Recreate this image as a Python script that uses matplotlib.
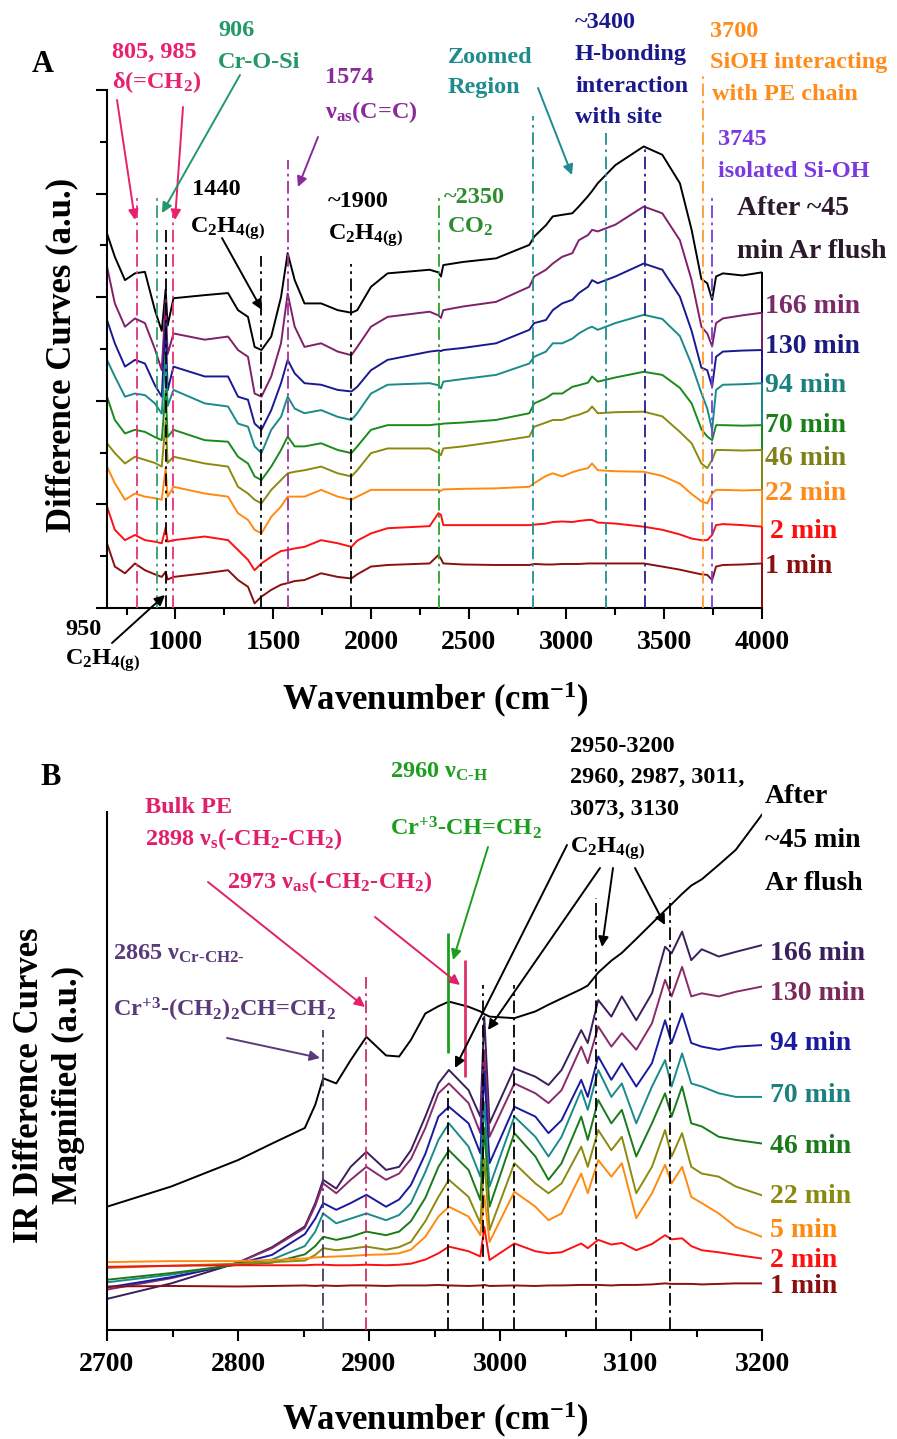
import matplotlib
matplotlib.use('Agg')
import matplotlib.pyplot as plt
from matplotlib.ticker import MultipleLocator
from matplotlib.patches import FancyArrowPatch

plt.rcParams['font.family'] = ['Liberation Serif', 'DejaVu Serif']
plt.rcParams['font.weight'] = 'bold'
plt.rcParams['mathtext.default'] = 'regular'
plt.rcParams['axes.linewidth'] = 1.5

W, H = 897, 1439

# ---------------- panel A data (offset difference spectra, a.u.)
wnA = [650, 690, 742, 793, 844, 895, 930, 950, 960, 990,
       1150, 1269, 1320, 1371, 1405, 1440, 1490, 1540, 1574, 1610,
       1660, 1745, 1830, 1900, 1930, 2000, 2085, 2300, 2345, 2358,
       2370, 2470, 2640, 2810, 2835, 2895, 2930, 2978, 3030, 3063,
       3110, 3131, 3160, 3250, 3395, 3490, 3580, 3640, 3690, 3720,
       3745, 3765, 3800, 3900, 4000]
a_after = [7.23, 6.78, 6.33, 6.46, 6.49, 5.75, 5.35, 6.15, 5.45, 5.98,
           6.04, 6.08, 5.75, 5.62, 5.04, 4.98, 5.24, 6.00, 6.85, 6.33,
           5.88, 5.88, 5.75, 5.70, 5.75, 6.20, 6.46, 6.53, 6.48, 6.40,
           6.62, 6.68, 6.75, 7.01, 7.17, 7.39, 7.56, 7.59, 7.62, 7.75,
           7.95, 8.05, 8.20, 8.55, 8.91, 8.75, 8.20, 7.30, 6.35, 6.27,
           5.95, 6.40, 6.46, 6.42, 6.48]
a_166 = [6.59, 5.88, 5.43, 5.59, 5.50, 5.00, 4.59, 5.95, 4.90, 5.30,
         5.18, 5.24, 4.98, 4.85, 4.14, 4.08, 4.47, 5.11, 6.07, 5.43,
         5.04, 5.11, 4.95, 4.88, 5.04, 5.43, 5.62, 5.72, 5.65, 5.60,
         5.75, 5.82, 5.91, 6.20, 6.40, 6.53, 6.65, 6.78, 6.85, 7.10,
         7.20, 7.30, 7.27, 7.40, 7.75, 7.62, 7.10, 6.33, 5.43, 5.30,
         5.05, 5.50, 5.59, 5.65, 5.70]
a_130 = [5.56, 5.11, 4.66, 4.79, 4.72, 4.30, 4.08, 5.50, 4.20, 4.66,
         4.47, 4.47, 4.08, 4.02, 3.56, 3.44, 3.82, 4.34, 4.79, 4.53,
         4.34, 4.31, 4.21, 4.18, 4.27, 4.59, 4.79, 4.95, 4.97, 4.96,
         4.98, 5.02, 5.11, 5.37, 5.50, 5.56, 5.75, 5.88, 5.95, 6.08,
         6.20, 6.33, 6.27, 6.40, 6.65, 6.53, 6.01, 5.35, 4.64, 4.59,
         4.27, 4.85, 4.95, 4.97, 4.98]
a_94 = [4.79, 4.47, 4.08, 4.14, 4.11, 3.95, 3.75, 4.90, 3.90, 4.21,
        3.95, 3.89, 3.56, 3.50, 3.12, 2.99, 3.44, 3.69, 4.08, 3.85,
        3.76, 3.82, 3.69, 3.63, 3.76, 4.14, 4.31, 4.34, 4.30, 4.24,
        4.37, 4.42, 4.50, 4.72, 4.85, 4.95, 5.11, 5.11, 5.20, 5.30,
        5.40, 5.43, 5.37, 5.50, 5.66, 5.58, 5.25, 4.70, 4.15, 3.85,
        3.44, 4.21, 4.31, 4.32, 4.34]
a_70 = [4.08, 3.63, 3.37, 3.44, 3.40, 3.30, 3.24, 4.20, 3.30, 3.44,
        3.24, 3.21, 2.92, 2.79, 2.54, 2.47, 2.73, 3.05, 3.31, 3.12,
        3.12, 3.18, 3.05, 2.99, 3.12, 3.44, 3.53, 3.53, 3.55, 3.55,
        3.56, 3.58, 3.63, 3.76, 3.95, 4.05, 4.14, 4.14, 4.27, 4.30,
        4.35, 4.47, 4.37, 4.45, 4.56, 4.50, 4.25, 3.95, 3.45, 3.31,
        3.24, 3.53, 3.53, 3.52, 3.53]
a_46 = [3.18, 2.99, 2.79, 2.92, 2.86, 2.80, 2.73, 3.60, 2.80, 2.92,
        2.79, 2.73, 2.34, 2.21, 2.09, 2.02, 2.28, 2.47, 2.60, 2.63,
        2.66, 2.73, 2.60, 2.54, 2.66, 2.99, 3.08, 3.08, 3.00, 2.95,
        3.08, 3.12, 3.21, 3.31, 3.50, 3.58, 3.63, 3.63, 3.70, 3.73,
        3.80, 3.89, 3.76, 3.78, 3.79, 3.70, 3.40, 3.18, 2.79, 2.70,
        2.86, 3.05, 3.05, 3.04, 3.05]
a_22 = [2.73, 2.41, 2.09, 2.21, 2.15, 2.12, 2.09, 2.70, 2.15, 2.34,
        2.21, 2.15, 1.83, 1.70, 1.51, 1.44, 1.76, 1.96, 2.15, 2.15,
        2.15, 2.28, 2.15, 2.09, 2.15, 2.28, 2.28, 2.28, 2.28, 2.26,
        2.29, 2.30, 2.31, 2.34, 2.41, 2.55, 2.60, 2.54, 2.62, 2.66,
        2.70, 2.79, 2.66, 2.64, 2.63, 2.55, 2.40, 2.20, 2.06, 2.02,
        2.21, 2.28, 2.28, 2.27, 2.28]
a_2 = [1.96, 1.51, 1.31, 1.41, 1.31, 1.28, 1.25, 1.55, 1.28, 1.31,
       1.38, 1.31, 1.12, 0.93, 0.73, 0.86, 0.99, 1.10, 1.12, 1.15,
       1.18, 1.31, 1.25, 1.18, 1.30, 1.44, 1.54, 1.58, 1.83, 1.80,
       1.60, 1.60, 1.60, 1.60, 1.61, 1.63, 1.66, 1.67, 1.66, 1.68,
       1.70, 1.70, 1.65, 1.63, 1.57, 1.51, 1.42, 1.34, 1.31, 1.31,
       1.41, 1.60, 1.62, 1.60, 1.57]
a_1 = [1.25, 0.80, 0.67, 0.86, 0.73, 0.65, 0.60, 0.70, 0.55, 0.60,
       0.67, 0.73, 0.54, 0.41, 0.09, 0.22, 0.35, 0.45, 0.48, 0.52,
       0.54, 0.67, 0.60, 0.57, 0.65, 0.80, 0.83, 0.86, 1.02, 0.95,
       0.86, 0.84, 0.83, 0.83, 0.85, 0.84, 0.84, 0.85, 0.85, 0.85,
       0.86, 0.86, 0.86, 0.86, 0.86, 0.80, 0.74, 0.69, 0.65, 0.64,
       0.54, 0.80, 0.83, 0.84, 0.86]
namesA = ['166 min', '130 min', '94 min', '70 min', '46 min', '22 min', '2 min', '1 min']
peaksA = [805, 906, 950, 985, 1440, 1574, 1900, 2350, 2830, 3200, 3400, 3700, 3745]
topsA = [8.0, 8.0, 7.3, 7.6, 6.8, 8.65, 6.65, 7.97, 9.5, 9.17, 8.9, 10.3, 7.97]

# ---------------- panel B data (2700-3200 zoom)
wnB = [2700, 2749, 2800, 2826, 2851, 2859, 2865, 2875, 2886, 2898,
       2913, 2923, 2932, 2943, 2953, 2961, 2976, 2985, 2988, 2992,
       3011, 3027, 3037, 3047, 3062, 3067, 3075, 3085, 3093, 3104,
       3116, 3126, 3131, 3139, 3146, 3154, 3167, 3180, 3200]
b_after = [2.38, 2.77, 3.28, 3.60, 3.90, 4.35, 4.86, 4.76, 5.21, 5.66,
           5.30, 5.28, 5.60, 6.11, 6.25, 6.34, 6.24, 6.15, 6.10, 6.05,
           6.02, 6.15, 6.28, 6.40, 6.58, 6.65, 6.90, 7.13, 7.28, 7.55,
           7.85, 8.10, 8.22, 8.42, 8.58, 8.70, 8.98, 9.27, 9.95]
b_166 = [0.60, 0.90, 1.30, 1.60, 2.00, 2.45, 2.90, 2.73, 3.15, 3.44,
         3.09, 3.15, 3.47, 4.12, 4.76, 5.02, 4.63, 4.12, 6.05, 3.99,
         5.05, 4.89, 4.73, 5.02, 5.79, 5.54, 6.37, 6.05, 6.44, 5.98,
         6.50, 7.40, 7.27, 7.69, 7.14, 7.35, 7.21, 7.30, 7.43]
b_130 = [0.78, 1.00, 1.30, 1.58, 1.97, 2.40, 2.83, 2.64, 2.90, 3.15,
         2.90, 3.02, 3.30, 3.90, 4.57, 4.76, 4.38, 3.80, 5.40, 3.73,
         4.76, 4.57, 4.38, 4.63, 5.47, 5.15, 5.86, 5.47, 5.73, 5.41,
         5.92, 6.76, 6.44, 7.01, 6.44, 6.50, 6.44, 6.53, 6.63]
b_94 = [0.82, 1.02, 1.28, 1.45, 1.85, 2.15, 2.45, 2.32, 2.45, 2.61,
        2.38, 2.52, 2.80, 3.40, 4.12, 4.31, 3.99, 3.41, 5.00, 3.22,
        4.31, 4.12, 3.80, 4.05, 4.83, 4.50, 5.28, 4.83, 5.15, 4.70,
        5.15, 5.98, 5.54, 6.11, 5.54, 5.47, 5.41, 5.47, 5.50]
b_70 = [0.92, 1.07, 1.27, 1.36, 1.62, 1.90, 2.25, 2.06, 2.15, 2.25,
        2.12, 2.22, 2.45, 3.05, 3.67, 3.99, 3.54, 2.96, 4.40, 2.77,
        4.12, 3.73, 3.35, 3.73, 4.63, 4.25, 5.02, 4.50, 4.76, 3.99,
        4.70, 5.21, 4.70, 5.34, 4.76, 4.70, 4.57, 4.50, 4.50]
b_46 = [0.97, 1.10, 1.26, 1.30, 1.46, 1.62, 1.80, 1.74, 1.80, 1.90,
        1.83, 1.90, 2.10, 2.55, 3.15, 3.47, 3.09, 2.51, 3.90, 2.38,
        3.80, 3.35, 2.90, 3.22, 4.12, 3.67, 4.44, 3.99, 4.25, 3.35,
        3.99, 4.57, 4.12, 4.70, 3.99, 3.93, 3.73, 3.67, 3.60]
b_22 = [1.20, 1.24, 1.28, 1.31, 1.34, 1.45, 1.58, 1.54, 1.57, 1.61,
        1.55, 1.60, 1.70, 2.10, 2.57, 2.90, 2.57, 2.06, 3.30, 1.93,
        3.22, 2.83, 2.64, 2.83, 3.54, 3.15, 3.86, 3.47, 3.73, 2.64,
        3.15, 3.86, 3.35, 3.80, 3.15, 3.02, 2.96, 2.77, 2.60]
b_5 = [1.31, 1.33, 1.33, 1.35, 1.38, 1.40, 1.41, 1.42, 1.43, 1.45,
       1.46, 1.48, 1.55, 1.80, 2.19, 2.38, 2.19, 1.83, 2.60, 1.70,
       2.67, 2.38, 2.12, 2.25, 3.02, 2.64, 3.28, 2.96, 3.22, 2.16,
       2.64, 3.19, 2.83, 3.15, 2.57, 2.45, 2.25, 1.99, 1.80]
b_2 = [1.22, 1.24, 1.25, 1.25, 1.25, 1.26, 1.26, 1.25, 1.25, 1.26,
       1.25, 1.26, 1.28, 1.36, 1.48, 1.61, 1.52, 1.42, 1.99, 1.35,
       1.67, 1.52, 1.48, 1.50, 1.67, 1.58, 1.74, 1.65, 1.68, 1.54,
       1.66, 1.83, 1.75, 1.77, 1.62, 1.54, 1.50, 1.45, 1.38]
b_1 = [0.84, 0.85, 0.84, 0.85, 0.86, 0.85, 0.86, 0.85, 0.86, 0.86,
       0.85, 0.86, 0.86, 0.86, 0.87, 0.86, 0.85, 0.86, 0.87, 0.85,
       0.86, 0.85, 0.86, 0.86, 0.87, 0.87, 0.87, 0.86, 0.87, 0.87,
       0.88, 0.90, 0.89, 0.89, 0.89, 0.88, 0.89, 0.90, 0.90]
namesB = ['166 min', '130 min', '94 min', '70 min', '46 min', '22 min', '5 min', '2 min', '1 min']
peaksB = [2865, 2898, 2960, 2987, 3011, 3073, 3130]
topsB = [5.79, 6.81, 4.63, 6.66, 6.66, 8.34, 8.34]

dashdot = (0, (7, 2.5, 1.5, 2.5))


def txt(x, y, s, c, fs=17.5, **kw):
    # x, y: figure pixels from the top-left, y is the text baseline
    fig.text(x / W, 1 - y / H, s, color=c, fontsize=fs, fontweight='bold',
             va=kw.pop('va', 'baseline'), **kw)


def arr(x0, y0, x1, y1, c):
    fig.add_artist(FancyArrowPatch((x0 / W, 1 - y0 / H), (x1 / W, 1 - y1 / H),
                                   transform=fig.transFigure, arrowstyle='-|>',
                                   mutation_scale=15, color=c, lw=1.4,
                                   shrinkA=0, shrinkB=0))


fig = plt.figure(figsize=(W / 100, H / 100), dpi=100)
axA = fig.add_axes([107 / W, 1 - 608 / H, 655 / W, 518 / H])
axB = fig.add_axes([107 / W, 1 - 1330 / H, 655 / W, 518 / H])

for ax in (axA, axB):
    ax.spines['top'].set_visible(False)
    ax.spines['right'].set_visible(False)
    ax.set_ylim(0, 10)
    ax.tick_params(which='major', direction='out', length=8, width=1.5,
                   labelsize=20, pad=8)
    ax.tick_params(which='minor', direction='out', length=5, width=1.5)

# --- panel A
colA = ['#000000', '#80206A', '#1A1A90', '#1A8A8A', '#1A8A1A', '#8A8A10',
        '#FF8A10', '#FF1010', '#8A1010']
for y, c in zip([a_after, a_166, a_130, a_94, a_70, a_46, a_22, a_2, a_1], colA):
    axA.plot(wnA, y, color=c, lw=1.4)
    axA.vlines(wnA[-1], 0, y[-1], color=c, lw=1.4, clip_on=False)

vcolA = ['#E8307A', '#2EA06A', '#000000', '#E8307A', '#000000', '#A030A0', '#000000',
         '#2EA02E', '#20908C', '#20908C', '#20208C', '#FF9A30', '#7040E0']
for p, t, c in zip(peaksA, topsA, vcolA):
    axA.vlines(p, 0, t, color=c, lw=1.3, linestyles=dashdot, clip_on=False, zorder=3)

axA.set_xlim(650, 4000)
axA.set_xticks(range(1000, 4001, 500))
axA.xaxis.set_minor_locator(MultipleLocator(250))
axA.set_yticks(range(0, 11, 2))
axA.yaxis.set_minor_locator(MultipleLocator(1))
axA.tick_params(axis='y', labelleft=False)

# --- panel B
colB = ['#000000', '#3A1F5C', '#8A2A6A', '#1A1AA0', '#1A8A8A', '#1A7A1A',
        '#8A8A10', '#FF8A10', '#FF1010', '#8A1010']
for y, c in zip([b_after, b_166, b_130, b_94, b_70, b_46, b_22, b_5, b_2, b_1], colB):
    axB.plot(wnB, y, color=c, lw=1.4)

vcolB = ['#4A3A6A', '#C8306A', '#000000', '#000000', '#000000', '#000000', '#000000']
for p, t, c in zip(peaksB, topsB, vcolB):
    axB.vlines(p, 0, t, color=c, lw=1.3, linestyles=dashdot, zorder=3)
axB.vlines(2960, 5.35, 7.66, color='#1E9E1E', lw=2, zorder=3)
axB.vlines(2973, 4.88, 7.14, color='#E0306A', lw=2, zorder=3)

axB.set_xlim(2700, 3200)
axB.set_xticks(range(2700, 3201, 100))
axB.xaxis.set_minor_locator(MultipleLocator(50))
axB.set_yticks([])

# --- axis titles
txt(435, 700, 'Wavenumber (cm$^{-1}$)', 'k', fs=25, ha='center', va='center')
txt(435, 1420, 'Wavenumber (cm$^{-1}$)', 'k', fs=25, ha='center', va='center')
txt(62, 355, 'Difference Curves (a.u.)', 'k', fs=25, ha='center', va='center',
    rotation=90)
txt(49, 1085, 'IR Difference Curves\nMagnified (a.u.)', 'k', fs=25, ha='center',
    va='center', rotation=90, linespacing=1.25, multialignment='center')
txt(32, 72, 'A', 'k', fs=22)
txt(40, 785, 'B', 'k', fs=22)

# --- time labels
labA_col = ['#7A2A6A', '#1A1A80', '#1A8080', '#1A801A', '#80801A', '#FF8A1A',
            '#FF1010', '#8A1010']
for s, yb, c in zip(namesA, [313, 353, 392, 432, 465, 500, 538, 573], labA_col):
    txt(770 if s == '2 min' else 765, yb, s, c, fs=20)
txt(737, 215, 'After ~45', '#2A1A2A', fs=20)
txt(737, 258, 'min Ar flush', '#2A1A2A', fs=20)

labB_col = ['#3A1F5C', '#7A2A5A', '#1A1AA0', '#1A8080', '#1A7A1A', '#8A8A10',
            '#FF8A10', '#FF1010', '#8A1010']
for s, yb, c in zip(namesB, [960, 1000, 1050, 1102, 1153, 1203, 1237, 1267, 1293], labB_col):
    txt(770, yb, s, c, fs=20)
txt(765, 803, 'After', 'k', fs=20)
txt(765, 847, '~45 min', 'k', fs=20)
txt(765, 890, 'Ar flush', 'k', fs=20)

# --- band annotations, panel A
pink, grn, purp = '#E8206E', '#229966', '#8B2A9B'
txt(112, 58, '805, 985', pink)
txt(112, 88, 'δ(=CH$_2$)', pink)
arr(117, 100, 135, 220, pink)
arr(183, 107, 175, 220, pink)
txt(218, 36, '906', grn)
txt(218, 68, 'Cr-O-Si', grn)
arr(240, 75, 162, 213, grn)
txt(325, 83, '1574', purp)
txt(325, 118, 'ν$_{as}$(C=C)', purp)
arr(318, 137, 298, 187, purp)
txt(192, 195, '1440', 'k')
txt(190, 233, 'C$_2$H$_{4(g)}$', 'k')
arr(222, 238, 262, 310, 'k')
txt(328, 207, '~1900', 'k')
txt(328, 240, 'C$_2$H$_{4(g)}$', 'k')
txt(444, 203, '~2350', '#2E8B2E')
txt(447, 233, 'CO$_2$', '#2E8B2E')
txt(448, 63, 'Zoomed', '#1E8C8C')
txt(448, 93, 'Region', '#1E8C8C')
arr(538, 88, 572, 175, '#1E8C8C')
txt(575, 28, '~3400', '#1A1A8C')
txt(575, 60, 'H-bonding', '#1A1A8C')
txt(575, 92, 'interaction', '#1A1A8C')
txt(575, 123, 'with site', '#1A1A8C')
txt(710, 37, '3700', '#FF8C1A')
txt(710, 68, 'SiOH interacting', '#FF8C1A')
txt(712, 100, 'with PE chain', '#FF8C1A')
txt(718, 145, '3745', '#7A3AE0')
txt(718, 177, 'isolated Si-OH', '#7A3AE0')
txt(65, 635, '950', 'k')
txt(65, 665, 'C$_2$H$_{4(g)}$', 'k')
arr(112, 643, 165, 595, 'k')

# --- band annotations, panel B
pinkB, grnB, purpB = '#E0206A', '#1E9E1E', '#5A3A7A'
txt(145, 813, 'Bulk PE', pinkB)
txt(145, 845, '2898 ν$_s$(-CH$_2$-CH$_2$)', pinkB)
arr(208, 882, 365, 1007, pinkB)
txt(227, 888, '2973 ν$_{as}$(-CH$_2$-CH$_2$)', pinkB)
arr(375, 917, 460, 985, pinkB)
txt(390, 778, '2960 ν$_{C\u2010H}$', grnB)
txt(390, 835, 'Cr$^{+3}$-CH=CH$_2$', grnB)
arr(488, 847, 453, 960, grnB)
txt(113, 960, '2865 ν$_{Cr\u2010CH2\u2010}$', purpB)
txt(113, 1017, 'Cr$^{+3}$-(CH$_2$)$_2$CH=CH$_2$', purpB)
arr(227, 1038, 320, 1058, purpB)
txt(570, 752, '2950-3200', 'k')
txt(570, 783, '2960, 2987, 3011,', 'k')
txt(570, 815, '3073, 3130', 'k')
txt(570, 853, 'C$_2$H$_{4(g)}$', 'k')
arr(567, 845, 455, 1068, 'k')
arr(600, 868, 488, 1030, 'k')
arr(613, 868, 602, 947, 'k')
arr(635, 868, 665, 925, 'k')

fig.savefig('out.png', dpi=100)
